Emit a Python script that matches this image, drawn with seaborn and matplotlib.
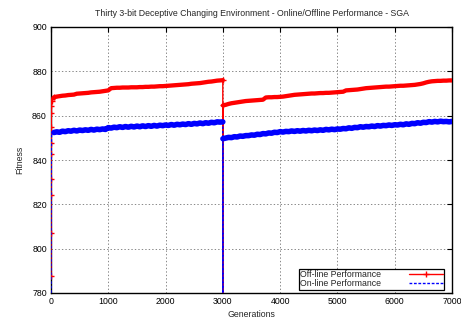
import numpy as np
import pandas as pd
import matplotlib
matplotlib.use("Agg")
import matplotlib.pyplot as plt
import seaborn as sns

# ---- data -------------------------------------------------------------
# generations at which values were recorded
gen_start = np.arange(0, 11)            # first generations
gen_phase1 = np.arange(50, 3000, 50)    # before the environment change
gen_change = [2999, 3000, 3001]         # around the change
gen_phase2 = np.arange(3050, 7001, 50)  # after the change

offline_start = [787.7, 807.2, 824.2, 831.3, 842.7, 847.8, 855.0, 861.0,
                 864.5, 866.5, 867.5]
offline_phase1 = [
    868.3, 868.6, 868.8, 869.0, 869.1, 869.3, 869.4, 869.5, 869.9, 870.0,
    870.1, 870.2, 870.3, 870.5, 870.6, 870.7, 870.8, 871.0, 871.2, 871.4,
    872.4, 872.5, 872.6, 872.6, 872.7, 872.7, 872.7, 872.8, 872.8, 872.8,
    872.9, 872.9, 873.0, 873.0, 873.1, 873.1, 873.2, 873.3, 873.3, 873.4,
    873.5, 873.6, 873.7, 873.8, 873.9, 874.0, 874.1, 874.2, 874.4, 874.5,
    874.6, 874.7, 874.9, 875.1, 875.3, 875.4, 875.6, 875.8, 875.9]
offline_change = [876.0, 770.0, 864.6]
offline_phase2 = [
    864.9, 865.3, 865.6, 865.8, 866.0, 866.2, 866.4, 866.6, 866.7, 866.8,
    866.9, 867.0, 867.1, 867.2, 868.2, 868.3, 868.3, 868.4, 868.4, 868.5,
    868.6, 868.8, 869.0, 869.2, 869.4, 869.5, 869.6, 869.7, 869.8, 869.9,
    870.0, 870.0, 870.1, 870.2, 870.2, 870.3, 870.3, 870.4, 870.5, 870.6,
    870.7, 870.8, 871.4, 871.5, 871.6, 871.7, 871.8, 872.0, 872.2, 872.4,
    872.5, 872.6, 872.7, 872.8, 872.9, 873.0, 873.1, 873.1, 873.2, 873.3,
    873.4, 873.5, 873.5, 873.6, 873.7, 873.8, 873.9, 874.1, 874.3, 874.6,
    875.0, 875.3, 875.5, 875.6, 875.7, 875.7, 875.8, 875.8, 875.9, 875.9]

online_start = [770.0, 800.0, 818.0, 830.0, 838.0, 843.0, 846.0, 848.0,
                849.5, 850.5, 851.5]
online_phase1 = [
    852.4, 852.7, 852.5, 853.0, 852.8, 853.2, 853.0, 853.4, 853.1, 853.5,
    853.3, 853.6, 853.4, 853.8, 853.5, 853.9, 853.7, 854.0, 853.8, 854.6,
    854.4, 854.8, 854.6, 855.0, 854.7, 855.1, 854.8, 855.2, 854.9, 855.3,
    855.0, 855.4, 855.1, 855.5, 855.2, 855.6, 855.3, 855.7, 855.5, 855.8,
    855.6, 856.0, 855.7, 856.1, 855.9, 856.2, 856.0, 856.4, 856.1, 856.5,
    856.3, 856.7, 856.4, 856.8, 856.6, 857.0, 856.8, 857.2, 857.1]
online_change = [857.2, 760.0, 849.6]
online_phase2 = [
    849.9, 850.2, 850.1, 850.5, 850.4, 850.8, 850.7, 851.0, 851.0, 851.3,
    851.2, 851.6, 851.5, 851.9, 851.8, 852.2, 852.1, 852.5, 852.4, 852.8,
    852.6, 852.9, 852.8, 853.1, 852.9, 853.2, 853.0, 853.3, 853.1, 853.4,
    853.2, 853.5, 853.3, 853.6, 853.4, 853.8, 853.6, 853.9, 853.7, 854.0,
    853.9, 854.2, 854.1, 854.5, 854.3, 854.7, 854.6, 855.0, 854.8, 855.1,
    855.0, 855.3, 855.1, 855.5, 855.3, 855.6, 855.5, 855.8, 855.6, 855.9,
    855.8, 856.1, 855.9, 856.3, 856.1, 856.5, 856.4, 856.8, 856.6, 857.0,
    856.9, 857.3, 857.1, 857.4, 857.2, 857.5, 857.3, 857.4, 857.2, 857.4]

x_ticks = [0, 1000, 2000, 3000, 4000, 5000, 6000, 7000]
y_ticks = [780, 800, 820, 840, 860, 880, 900]

generations = np.concatenate([gen_start, gen_phase1, gen_change, gen_phase2])
offline = np.concatenate([offline_start, offline_phase1, offline_change,
                          offline_phase2])
online = np.concatenate([online_start, online_phase1, online_change,
                         online_phase2])
df_off = pd.DataFrame({"Generations": generations, "Fitness": offline})
df_on = pd.DataFrame({"Generations": generations, "Fitness": online})

# steady stretches are drawn as a dense band, the jumps as thin strokes
g = df_off["Generations"]
steady = ((g >= 50) & (g <= 2999)) | (g >= 3001)
jump_a = g <= 50
jump_b = (g >= 2999) & (g <= 3001)

# ---- style ------------------------------------------------------------
sns.set_style("white")
plt.rcParams["font.family"] = ["Liberation Sans", "DejaVu Sans"]
plt.rcParams["lines.scale_dashes"] = False

fig = plt.figure(figsize=(4.61, 3.22), dpi=100)
ax = fig.add_axes([51 / 461, 1 - 293 / 322, 401 / 461, 266 / 322])

RED, BLUE = "#ff0000", "#0000ff"
off_kw = dict(x="Generations", y="Fitness", ax=ax, estimator=None,
              sort=False, color=RED, zorder=3)
on_kw = dict(x="Generations", y="Fitness", ax=ax, estimator=None,
             sort=False, color=BLUE, zorder=4)

# off-line performance
for m in (jump_a, jump_b):
    sns.lineplot(data=df_off[m], linewidth=1.0, marker="+", markersize=4,
                 markeredgewidth=1.0, markeredgecolor=RED, **off_kw)
sns.lineplot(data=df_off[steady & (g < 3000)], linewidth=3.1, **off_kw)
sns.lineplot(data=df_off[steady & (g > 3000)], linewidth=3.1, **off_kw)

# on-line performance
for m in (jump_a, jump_b):
    sns.lineplot(data=df_on[m], linewidth=1.0, linestyle=(0, (2, 1.2)),
                 **on_kw)
sns.lineplot(data=df_on[steady & (g < 3000)], linewidth=4.0, **on_kw)
sns.lineplot(data=df_on[steady & (g > 3000)], linewidth=4.0, **on_kw)

ax.set_xlim(0, 7000)
ax.set_ylim(780, 900)
ax.set_xticks(x_ticks)
ax.set_yticks(y_ticks)
ax.tick_params(direction="in", length=3.5, width=0.8, top=True, right=True,
               labelsize=6.3, pad=3, colors="black")
ax.grid(True, color="#888888", linestyle=(0, (1, 1.5)), linewidth=0.7)
for s in ax.spines.values():
    s.set_color("black")
    s.set_linewidth(1.0)

ax.set_xlabel("Generations", fontsize=6.3, labelpad=3)
ax.set_ylabel("Fitness", fontsize=6.3, labelpad=6)
ax.set_title("Thirty 3-bit Deceptive Changing Environment - Online/Offline "
             "Performance - SGA", fontsize=6.3, pad=8)

# legend
h_off = plt.Line2D([], [], color=RED, linewidth=1.0, marker="+",
                   markersize=5, markeredgewidth=1.0)
h_on = plt.Line2D([], [], color=BLUE, linewidth=1.0,
                  linestyle=(0, (2, 1.2)))
leg = ax.legend([h_off, h_on], ["Off-line Performance", "On-line Performance"],
                loc="lower right",
                bbox_to_anchor=(444 / 461, 1 - 289.7 / 322),
                bbox_transform=fig.transFigure, fontsize=6.3,
                markerfirst=False, frameon=True, fancybox=False,
                framealpha=1, edgecolor="black", borderpad=0.15,
                labelspacing=0.05, handlelength=3.8, handletextpad=3.2,
                borderaxespad=0)
leg.get_frame().set_linewidth(0.9)

fig.savefig("out.png", dpi=100)
